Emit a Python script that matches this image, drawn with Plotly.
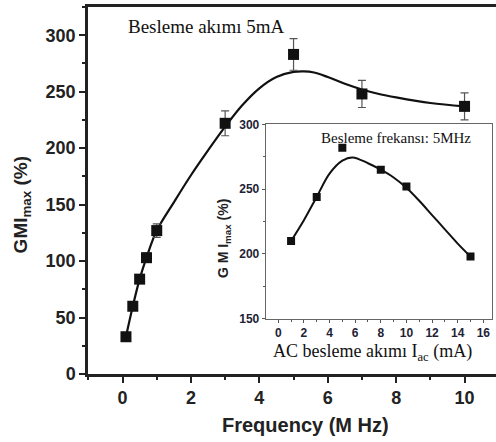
import plotly.graph_objects as go

# Main data: GMImax vs frequency
freq = [0.1, 0.3, 0.5, 0.7, 1.0, 3.0, 5.0, 7.0, 10.0]
gmi = [33, 60, 84, 103, 127, 222, 283, 248, 237]
gmi_err = [2, 3, 3, 4, 6, 11, 14, 12, 12]
fit_freq = [0.1, 0.3, 0.5, 0.7, 1.0, 1.5, 2.0, 2.5, 3.0, 3.5, 4.0, 4.5, 5.0, 5.3, 5.6, 6.0, 6.5, 7.0, 7.5, 8.0, 9.0, 10.0]
fit_gmi = [33, 60, 84, 103, 127, 152, 176, 198, 219, 238, 253, 263, 267.5, 268, 267, 263, 257, 252, 248, 245, 240, 237]

# Inset data: GMImax vs AC current
iac = [1, 3, 5, 8, 10, 15]
gmi_iac = [210, 244, 282, 265, 252, 198]
fit_iac = [1, 2, 3, 4, 5, 5.8, 7, 8, 9, 10, 11, 12, 13, 14, 15]
fit_gmi_iac = [210, 226, 244, 262, 272, 274.5, 270, 265, 259, 251, 241, 230, 219, 208, 198]

W, H = 496, 442
L, R, T, B = 88, 0, 4, 68
pw, ph = W - L - R, H - T - B

def px(x):
    return (x - L) / pw

def py(y):
    return (H - B - y) / ph

fig = go.Figure()
fig.add_trace(go.Scatter(x=fit_freq, y=fit_gmi, mode="lines", line=dict(color="#111", width=2.2, shape="spline", smoothing=1.0),
                         hoverinfo="skip", showlegend=False))
fig.add_trace(go.Scatter(x=freq, y=gmi, mode="markers",
                         marker=dict(symbol="square", size=11, color="#111"),
                         error_y=dict(type="data", array=gmi_err, color="#555", thickness=1.2, width=4),
                         showlegend=False))
fig.add_trace(go.Scatter(x=fit_iac, y=fit_gmi_iac, mode="lines", xaxis="x2", yaxis="y2",
                         line=dict(color="#111", width=2, shape="spline", smoothing=1.0), showlegend=False))
fig.add_trace(go.Scatter(x=iac, y=gmi_iac, mode="markers", xaxis="x2", yaxis="y2",
                         marker=dict(symbol="square", size=8, color="#111"), showlegend=False))

tickfont_main = dict(family="Arial, Liberation Sans", size=18, color="#222", weight="bold")
tickfont_in = dict(family="Arial, Liberation Sans", size=12, color="#1e2235", weight="bold")

fig.update_layout(
    width=W, height=H, margin=dict(l=L, r=R, t=T, b=B),
    paper_bgcolor="white", plot_bgcolor="white",
    xaxis=dict(range=[-1.01, 10.92], tickvals=[0, 2, 4, 6, 8, 10], ticks="outside", ticklen=6, tickwidth=2,
               tickcolor="#222", minor=dict(dtick=1, ticks="outside", ticklen=3, tickwidth=2, tickcolor="#222"),
               showline=True, linewidth=2.5, linecolor="#222", mirror=True, showgrid=False, zeroline=False,
               tickfont=tickfont_main),
    yaxis=dict(range=[0, 325], dtick=50, ticks="outside", ticklen=6, tickwidth=2, tickcolor="#222",
               minor=dict(dtick=25, ticks="outside", ticklen=3, tickwidth=2, tickcolor="#222"),
               showline=True, linewidth=2.5, linecolor="#222", showgrid=False, zeroline=False,
               tickfont=tickfont_main),
    xaxis2=dict(domain=[px(265.7), px(492.3)], anchor="y2", range=[-0.98, 16.7], dtick=2, ticks="outside",
                ticklen=3, tickwidth=1, tickcolor="#555", minor=dict(dtick=1, ticks="outside", ticklen=2, tickcolor="#555"),
                showline=True, linewidth=1, linecolor="#666", mirror=True, showgrid=False, zeroline=False,
                tickfont=tickfont_in),
    yaxis2=dict(domain=[py(318.3), py(122.3)], anchor="x2", range=[150, 300], dtick=50, ticks="outside",
                ticklen=3, tickwidth=1, tickcolor="#555", minor=dict(dtick=25, ticks="outside", ticklen=2, tickcolor="#555"),
                showline=True, linewidth=1, linecolor="#666", mirror=True, showgrid=False, zeroline=False,
                tickfont=tickfont_in),
)

# inset background
fig.add_shape(type="rect", xref="paper", yref="paper", x0=px(265.7), x1=px(492.3), y0=py(318.3), y1=py(122.3),
              fillcolor="white", line=dict(width=0), layer="below")

ann = [
    dict(text="<b>GMI<sub>max</sub> (%)</b>", x=px(22), y=py(204), textangle=-90,
         font=dict(family="Arial, Liberation Sans", size=19, color="#222")),
    dict(text="<b>Frequency (M Hz)</b>", x=px(305.5), y=py(425),
         font=dict(family="Arial, Liberation Sans", size=20, color="#222")),
    dict(text="Besleme akımı 5mA", x=px(206), y=py(24),
         font=dict(family="Liberation Serif, Times New Roman", size=19, color="#111")),
    dict(text="Besleme frekansı: 5MHz", x=px(396), y=py(136),
         font=dict(family="Liberation Serif, Times New Roman", size=15, color="#111")),
    dict(text="AC besleme akımı I<sub>ac</sub> (mA)", x=px(372), y=py(352),
         font=dict(family="Liberation Serif, Times New Roman", size=18, color="#111")),
    dict(text="<b>G M I<sub>max</sub> (%)</b>", x=px(224), y=py(237), textangle=-90,
         font=dict(family="Arial, Liberation Sans", size=14, color="#222")),
]
for a in ann:
    fig.add_annotation(xref="paper", yref="paper", showarrow=False, xanchor="center", yanchor="middle", **a)

fig.write_html("out.html", config={"displayModeBar": False},
               post_script="document.body.style.margin='0px';document.body.style.overflow='hidden';")
